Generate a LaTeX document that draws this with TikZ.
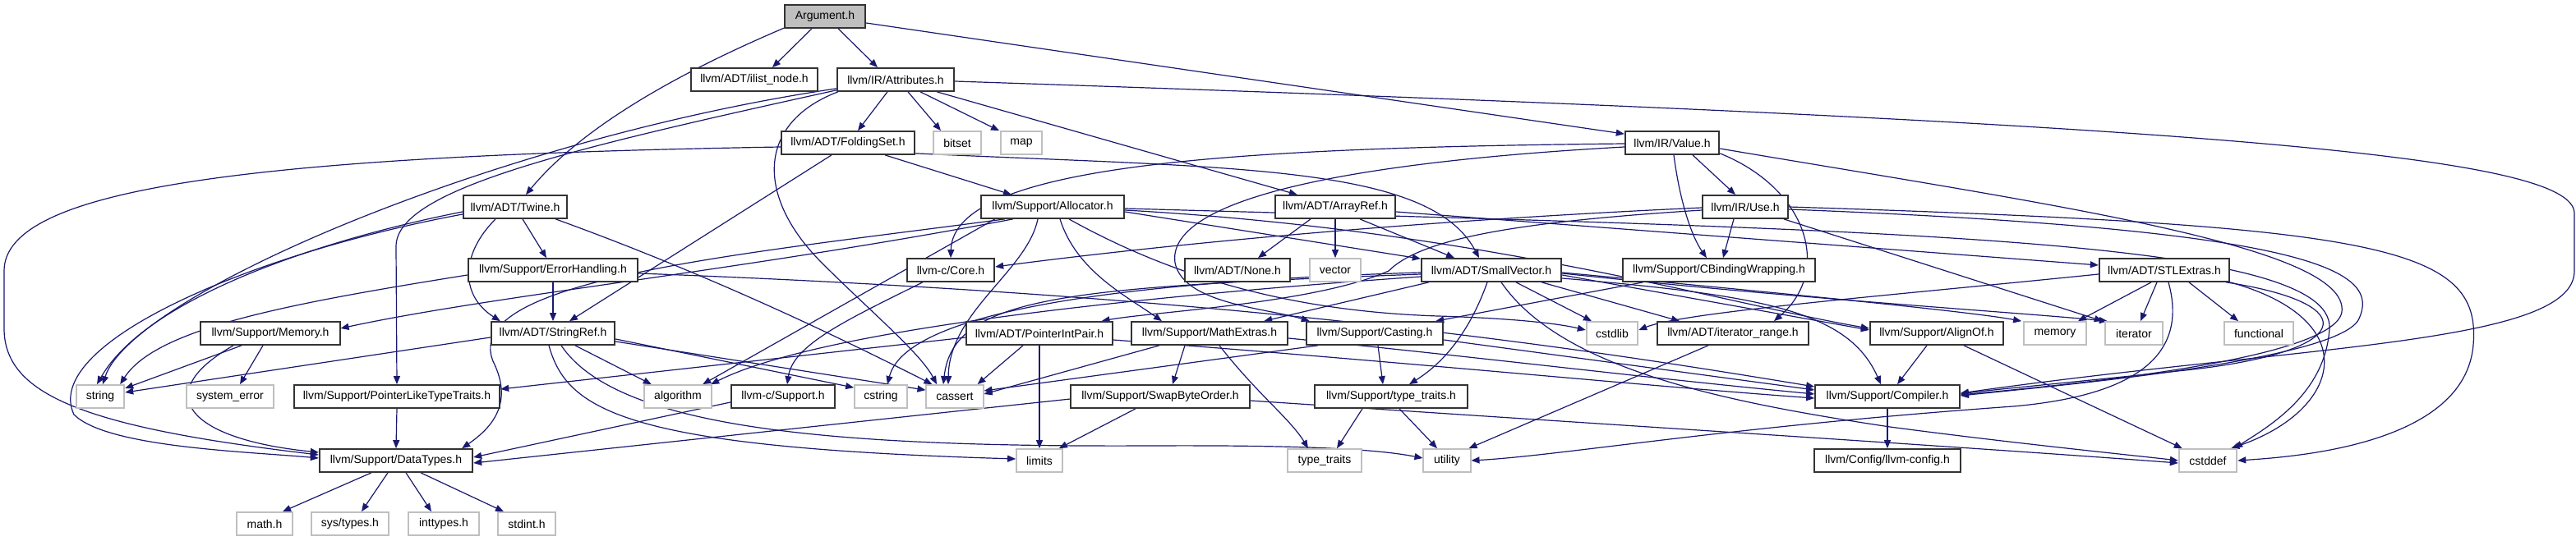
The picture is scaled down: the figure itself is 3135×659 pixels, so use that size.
\documentclass[tikz,border=0pt]{standalone}
\usepackage{fontspec}
\setmainfont{Liberation Sans}
\usetikzlibrary{calc,arrows.meta,backgrounds}

\tikzset{every picture/.style={line width=0.75pt}}
\tikzset{
  hdr/.style={draw={rgb, 255:red, 51; green, 51; blue, 51}, line width=1.3pt, fill=white,
    minimum height=21pt, inner sep=0pt, font=\fontsize{10.5}{12}\selectfont},
  sys/.style={hdr, draw={rgb, 255:red, 191; green, 191; blue, 191}},
  link/.style={draw={rgb, 255:red, 25; green, 25; blue, 112}, line width=0.9pt,
    -{Triangle[length=7.5pt,width=6pt]}, fill=none}
}

\begin{document}
\begin{tikzpicture}[x=0.75pt,y=0.75pt,yscale=-1,xscale=1]
\useasboundingbox (0,0) rectangle (3135,659);

% Row 0 and 1
\node[hdr, fill={rgb, 255:red, 191; green, 191; blue, 191}, minimum width=74pt] (arg) at (1004,20) {Argument.h};
\node[hdr, minimum width=116pt] (ilist) at (918,97) {llvm/ADT/ilist\_node.h};
\node[hdr, minimum width=107pt] (attrs) at (1090,97) {llvm/IR/Attributes.h};
% Row 2
\node[hdr, minimum width=122pt] (folding) at (1032,174) {llvm/ADT/FoldingSet.h};
\node[sys, minimum width=44pt] (bitset) at (1165,174) {bitset};
\node[sys, minimum width=38pt] (map) at (1243,174) {map};
\node[hdr, minimum width=86pt] (value) at (2035,174) {llvm/IR/Value.h};
% Row 3
\node[hdr, minimum width=95pt] (twine) at (627,252) {llvm/ADT/Twine.h};
\node[hdr, minimum width=131pt] (alloc) at (1281,252) {llvm/Support/Allocator.h};
\node[hdr, minimum width=110pt] (arrayref) at (1625,252) {llvm/ADT/ArrayRef.h};
\node[hdr, minimum width=78pt] (use) at (2124,252) {llvm/IR/Use.h};
% Row 4
\node[hdr, minimum width=155pt] (errh) at (673,329) {llvm/Support/ErrorHandling.h};
\node[hdr, minimum width=80pt] (core) at (1157,329) {llvm-c/Core.h};
\node[hdr, minimum width=96pt] (none) at (1506,329) {llvm/ADT/None.h};
\node[sys, minimum width=47pt] (vector) at (1625,329) {vector};
\node[hdr, minimum width=128pt] (smallvec) at (1815,329) {llvm/ADT/SmallVector.h};
\node[hdr, minimum width=175pt] (cbind) at (2092,329) {llvm/Support/CBindingWrapping.h};
\node[hdr, minimum width=119pt] (stlx) at (2634,329) {llvm/ADT/STLExtras.h};
% Row 5
\node[hdr, minimum width=127pt] (memoryh) at (329,406) {llvm/Support/Memory.h};
\node[hdr, minimum width=113pt] (strref) at (673,406) {llvm/ADT/StringRef.h};
\node[hdr, minimum width=133pt] (ptrint) at (1265,406) {llvm/ADT/PointerIntPair.h};
\node[hdr, minimum width=143pt] (mathx) at (1472,406) {llvm/Support/MathExtras.h};
\node[hdr, minimum width=125pt] (casting) at (1673,406) {llvm/Support/Casting.h};
\node[sys, minimum width=47pt] (cstdlib) at (1962,406) {cstdlib};
\node[hdr, minimum width=138pt] (itrange) at (2109,406) {llvm/ADT/iterator\_range.h};
\node[hdr, minimum width=122pt] (alignof) at (2357,406) {llvm/Support/AlignOf.h};
\node[sys, minimum width=57pt] (memory) at (2501,406) {memory};
\node[sys, minimum width=53pt] (iterator) at (2597,406) {iterator};
\node[sys, minimum width=63pt] (functional) at (2749,406) {functional};
% Row 6
\node[sys, minimum width=44pt] (string) at (122,483) {string};
\node[sys, minimum width=80pt] (syserr) at (280,483) {system\_error};
\node[hdr, minimum width=188pt] (ptrlike) at (483,483) {llvm/Support/PointerLikeTypeTraits.h};
\node[sys, minimum width=62pt] (algorithm) at (825,483) {algorithm};
\node[hdr, minimum width=95pt] (csupport) at (953,483) {llvm-c/Support.h};
\node[sys, minimum width=48pt] (cstring) at (1072,483) {cstring};
\node[sys, minimum width=52pt] (cassert) at (1162,483) {cassert};
\node[hdr, minimum width=163pt] (swapbo) at (1412,483) {llvm/Support/SwapByteOrder.h};
\node[hdr, minimum width=140pt] (typetr) at (1693,483) {llvm/Support/type\_traits.h};
\node[hdr, minimum width=132pt] (compiler) at (2297,483) {llvm/Support/Compiler.h};
% Row 7
\node[hdr, minimum width=140pt] (datatypes) at (482,561) {llvm/Support/DataTypes.h};
\node[sys, minimum width=42pt] (limits) at (1265,561) {limits};
\node[sys, minimum width=68pt] (typetraits) at (1612,561) {type\_traits};
\node[sys, minimum width=43pt] (utility) at (1761,561) {utility};
\node[hdr, minimum width=134pt] (config) at (2297,561) {llvm/Config/llvm-config.h};
\node[sys, minimum width=53pt] (cstddef) at (2687,561) {cstddef};
% Row 8
\node[sys, minimum width=51pt] (mathh) at (322,638) {math.h};
\node[sys, minimum width=71pt] (systypes) at (426,638) {sys/types.h};
\node[sys, minimum width=65pt] (inttypes) at (540,638) {inttypes.h};
\node[sys, minimum width=53pt] (stdint) at (641,638) {stdint.h};

\begin{pgfonlayer}{background}
\fill[white] (0,0) rectangle (3135,659);

% Argument.h
\draw[link] ($(arg.south west)+(1,-1)$) .. controls (870,70) and (720,140) .. ($(twine.north)+(13,0)$);
\draw[link] ($(arg.south)+(-16,0)$) -- ($(ilist.north)+(22,0)$);
\draw[link] ($(arg.south)+(16,0)$) -- ($(attrs.north)+(-22,0)$);
\draw[link] ($(arg.east)+(0,8)$) -- ($(value.north west)+(0,4)$);

% llvm/IR/Attributes.h
\draw[link] ($(attrs.south)+(-10,0)$) -- ($(folding.north)+(12,0)$);
\draw[link] ($(attrs.south)+(15,0)$) -- ($(bitset.north)+(-20,0)$);
\draw[link] ($(attrs.south)+(30,0)$) -- ($(map.north)+(-27,0)$);
\draw[link] ($(attrs.south east)+(-22,0)$) -- ($(arrayref.north west)+(28,0)$);
\draw[link] ($(attrs.east)+(0,2)$) .. controls (2700,150) and (3133,190) .. (3133,260) -- (3133,330) .. controls (3133,420) and (2800,420) .. ($(compiler.east)+(0,-4)$);
\draw[link] ($(attrs.south west)+(0,-2)$) .. controls (700,180) and (482,230) .. (482,300) -- (ptrlike.north);
\draw[link] ($(attrs.south west)+(0,-4)$) .. controls (600,170) and (160,360) .. ($(string.north)+(3,0)$);
\draw[link] ($(attrs.south west)+(2,0)$) .. controls (920,150) and (920,240) .. (1000,320) .. controls (1060,380) and (1120,430) .. ($(cassert.north)+(-22,0)$);

% llvm/ADT/FoldingSet.h
\draw[link] ($(folding.south)+(45,0)$) -- ($(alloc.north)+(-50,0)$);
\draw[link] ($(folding.south east)+(0,-2)$) .. controls (1500,205) and (1740,200) .. ($(smallvec.north)+(-15,0)$);
\draw[link] ($(folding.south)+(-20,0)$) -- ($(strref.north)+(20,0)$);
\draw[link] ($(folding.west)+(0,5)$) .. controls (300,190) and (5,230) .. (5,330) -- (5,400) .. controls (5,480) and (100,520) .. ($(datatypes.west)+(0,-7)$);

% llvm/IR/Value.h
\draw[link] ($(value.west)+(0,1)$) .. controls (1500,180) and (1160,200) .. (core.north);
\draw[link] ($(value.west)+(0,5)$) .. controls (1600,200) and (1420,250) .. (1430,320) .. controls (1440,370) and (1540,375) .. ($(casting.north west)+(5,0)$);
\draw[link] ($(value.south)+(25,0)$) -- ($(use.north)+(-12,0)$);
\draw[link] ($(value.south)+(2,0)$) .. controls (2045,250) and (2060,290) .. ($(cbind.north)+(-15,0)$);
\draw[link] ($(value.south east)+(0,-2)$) .. controls (2200,230) and (2230,330) .. ($(itrange.north)+(50,0)$);
\draw[link] ($(value.east)+(0,7)$) .. controls (2500,250) and (2860,300) .. (2850,380) .. controls (2840,440) and (2500,470) .. ($(compiler.east)+(0,-2)$);

% llvm/ADT/Twine.h
\draw[link] ($(twine.south)+(9,0)$) -- ($(errh.north)+(-8,0)$);
\draw[link] ($(twine.south)+(-24,0)$) .. controls (560,310) and (560,360) .. ($(strref.north west)+(12,0)$);
\draw[link] ($(twine.south east)+(-15,0)$) .. controls (850,330) and (1000,400) .. ($(cassert.north west)+(8,0)$);
\draw[link] ($(twine.west)+(0,6)$) .. controls (400,290) and (180,360) .. ($(string.north)+(-4,0)$);
\draw[link] ($(twine.west)+(0,9)$) .. controls (300,310) and (50,420) .. (90,505) .. controls (130,545) and (300,550) .. ($(datatypes.west)+(0,-3)$);

% llvm/Support/ErrorHandling.h
\draw[link] (errh.south) -- (strref.north);
\draw[link] ($(errh.west)+(0,6)$) .. controls (350,370) and (190,400) .. ($(string.north east)+(-6,0)$);
\draw[link] ($(errh.east)+(0,4)$) .. controls (1500,360) and (1900,420) .. ($(compiler.west)+(0,-12)$);

% llvm/ADT/StringRef.h
\draw[link] ($(strref.west)+(0,5)$) -- ($(string.east)+(0,-5)$);
\draw[link] ($(strref.south)+(27,0)$) -- ($(algorithm.north west)+(10,0)$);
\draw[link] ($(strref.east)+(0,7)$) -- ($(cstring.north west)+(0,4)$);
\draw[link] ($(strref.east)+(0,10)$) -- ($(cassert.north west)+(0,7)$);
\draw[link] ($(strref.south)+(-5,0)$) .. controls (690,500) and (760,545) .. ($(limits.west)+(0,-2)$);
\draw[link] ($(strref.south)+(10,0)$) .. controls (750,520) and (1000,545) .. (1400,543) .. controls (1600,542) and (1680,548) .. ($(utility.west)+(0,-3)$);

% llvm/Support/Memory.h
\draw[link] ($(memoryh.south)+(-35,0)$) -- ($(string.east)+(0,-10)$);
\draw[link] ($(memoryh.south)+(-9,0)$) -- ($(syserr.north)+(12,0)$);
\draw[link] ($(memoryh.south)+(-45,0)$) .. controls (180,480) and (230,535) .. ($(datatypes.west)+(0,-10)$);

% llvm/Support/PointerLikeTypeTraits.h
\draw[link] (ptrlike.south) -- (datatypes.north);

% llvm/Support/DataTypes.h
\draw[link] ($(datatypes.south)+(-30,0)$) -- ($(mathh.north)+(22,0)$);
\draw[link] ($(datatypes.south)+(-10,0)$) -- ($(systypes.north)+(14,0)$);
\draw[link] ($(datatypes.south)+(12,0)$) -- ($(inttypes.north)+(-15,0)$);
\draw[link] ($(datatypes.south)+(30,0)$) -- ($(stdint.north)+(-28,0)$);

% llvm/Support/Allocator.h
\draw[link] ($(alloc.east)+(0,6)$) -- ($(smallvec.north west)+(0,1)$);
\draw[link] ($(alloc.east)+(0,4)$) .. controls (1800,280) and (2100,370) .. ($(alignof.west)+(0,-6)$);
\draw[link] ($(alloc.south)+(9,0)$) .. controls (1310,330) and (1370,360) .. ($(mathx.north)+(-58,0)$);
\draw[link] ($(alloc.south west)+(40,0)$) .. controls (900,330) and (600,360) .. ($(memoryh.east)+(0,-6)$);
\draw[link] ($(alloc.south west)+(30,0)$) .. controls (900,310) and (560,340) .. (600,440) .. controls (625,490) and (600,520) .. ($(datatypes.north east)+(-14,0)$);
\draw[link] ($(alloc.south west)+(18,0)$) -- ($(algorithm.north east)+(-12,0)$);
\draw[link] ($(alloc.south)+(-18,0)$) .. controls (1250,330) and (1155,380) .. ($(cassert.north)+(-8,0)$);
\draw[link] ($(alloc.south)+(20,0)$) .. controls (1450,350) and (1600,380) .. (1750,385) .. controls (1850,388) and (1900,395) .. ($(cstdlib.west)+(0,-4)$);
\draw[link] ($(alloc.east)+(0,2)$) .. controls (2300,280) and (2840,290) .. (2835,400) .. controls (2830,480) and (2760,520) .. ($(cstddef.north east)+(-4,0)$);

% llvm/ADT/ArrayRef.h
\draw[link] ($(arrayref.south)+(-30,0)$) -- ($(none.north)+(25,0)$);
\draw[link] (arrayref.south) -- (vector.north);
\draw[link] ($(arrayref.south)+(30,0)$) -- ($(smallvec.north)+(-45,0)$);
\draw[link] ($(arrayref.east)+(0,6)$) -- ($(stlx.west)+(0,-6)$);

% llvm/IR/Use.h
\draw[link] ($(use.south)+(-14,0)$) -- ($(cbind.north)+(5,0)$);
\draw[link] ($(use.west)+(0,1)$) .. controls (1700,270) and (1400,300) .. ($(core.east)+(0,-4)$);
\draw[link] ($(use.west)+(0,4)$) .. controls (1850,270) and (1730,290) .. (1690,330) .. controls (1600,370) and (1400,380) .. ($(ptrint.north east)+(-14,0)$);
\draw[link] ($(use.south east)+(-6,0)$) -- ($(iterator.north west)+(-2,0)$);
\draw[link] (use.east) .. controls (2900,275) and (3020,300) .. (3010,420) .. controls (3000,540) and (2800,556) .. (cstddef.east);
\draw[link] ($(use.east)+(0,3)$) .. controls (2820,280) and (2900,330) .. (2870,390) .. controls (2840,440) and (2500,470) .. ($(compiler.east)+(0,-1)$);

% llvm-c/Core.h and llvm-c/Support.h
\draw[link] ($(core.south west)+(20,0)$) .. controls (1030,390) and (965,420) .. ($(csupport.north)+(5,0)$);
\draw[link] ($(csupport.west)+(0,7)$) -- ($(datatypes.east)+(0,-4)$);

% llvm/ADT/SmallVector.h
\draw[link] ($(smallvec.east)+(0,6)$) -- ($(alignof.west)+(0,-4)$);
\draw[link] ($(smallvec.east)+(0,10)$) .. controls (2150,360) and (2250,380) .. ($(compiler.north)+(-8,0)$);
\draw[link] ($(smallvec.south west)+(10,0)$) -- ($(mathx.north east)+(-30,0)$);
\draw[link] ($(smallvec.south)+(-5,0)$) .. controls (1790,400) and (1760,440) .. ($(typetr.north)+(22,0)$);
\draw[link] ($(smallvec.south)+(12,0)$) .. controls (1900,450) and (2100,490) .. (2300,520) .. controls (2450,540) and (2600,555) .. (cstddef.west);
\draw[link] ($(smallvec.south)+(30,0)$) -- ($(cstdlib.north)+(-25,0)$);
\draw[link] ($(smallvec.south east)+(-25,0)$) -- ($(itrange.north)+(-65,0)$);
\draw[link] ($(smallvec.east)+(0,3)$) .. controls (2200,360) and (2400,380) .. ($(memory.north west)+(-2,0)$);
\draw[link] ($(smallvec.east)+(0,4)$) .. controls (2200,365) and (2450,380) .. ($(iterator.north west)+(4,0)$);
\draw[link] ($(smallvec.west)+(0,8)$) .. controls (1400,360) and (1000,400) .. ($(algorithm.north east)+(-2,0)$);
\draw[link] ($(smallvec.west)+(0,5)$) .. controls (1300,350) and (1160,360) .. ($(cassert.north)+(-14,0)$);
\draw[link] ($(smallvec.west)+(0,3)$) .. controls (1300,345) and (1100,390) .. ($(cstring.north)+(8,0)$);

% llvm/Support/CBindingWrapping.h
\draw[link] ($(cbind.south west)+(25,0)$) -- ($(casting.north east)+(-10,0)$);

% llvm/ADT/STLExtras.h
\draw[link] ($(stlx.south)+(-16,0)$) -- ($(memory.north)+(28,0)$);
\draw[link] ($(stlx.south)+(-9,0)$) -- ($(iterator.north)+(8,0)$);
\draw[link] ($(stlx.south)+(30,0)$) -- ($(functional.north)+(-25,0)$);
\draw[link] ($(stlx.west)+(0,5)$) .. controls (2300,360) and (2050,380) .. ($(cstdlib.east)+(0,-4)$);
\draw[link] ($(stlx.south)+(5,0)$) .. controls (2660,420) and (2620,480) .. (2450,495) .. controls (2100,520) and (1900,555) .. (utility.east);
\draw[link] ($(stlx.south east)+(-5,0)$) .. controls (2880,370) and (2870,430) .. (2650,452) .. controls (2520,466) and (2420,475) .. ($(compiler.east)+(0,-3)$);
\draw[link] (stlx.south east) .. controls (2880,390) and (2850,500) .. ($(cstddef.north east)+(-8,0)$);

% llvm/Support/AlignOf.h
\draw[link] ($(alignof.south)+(-12,0)$) -- ($(compiler.north)+(12,0)$);
\draw[link] ($(alignof.south)+(33,0)$) -- ($(cstddef.north west)+(5,0)$);

% llvm/ADT/iterator_range.h
\draw[link] ($(itrange.south)+(-30,0)$) -- ($(utility.north east)+(-3,0)$);

% llvm/Support/Casting.h
\draw[link] ($(casting.south)+(4,0)$) -- ($(typetr.north)+(-10,0)$);
\draw[link] ($(casting.east)+(0,8)$) -- ($(compiler.west)+(0,-8)$);
\draw[link] ($(casting.south west)+(15,0)$) -- ($(cassert.east)+(0,-7)$);

% llvm/ADT/PointerIntPair.h
\draw[link] ($(ptrint.south)+(-20,0)$) -- ($(cassert.north east)+(-8,0)$);
\draw[link] (ptrint.south) -- (limits.north);
\draw[link] ($(ptrint.west)+(0,5)$) -- ($(ptrlike.east)+(0,-9)$);
\draw[link] ($(ptrint.east)+(0,8)$) .. controls (1700,440) and (2000,470) .. ($(compiler.west)+(0,2)$);

% llvm/Support/MathExtras.h
\draw[link] ($(mathx.south)+(-30,0)$) -- ($(swapbo.north)+(15,0)$);
\draw[link] ($(mathx.south)+(12,0)$) .. controls (1530,480) and (1570,510) .. ($(typetraits.north)+(-20,0)$);
\draw[link] ($(mathx.south west)+(35,0)$) -- ($(cassert.east)+(0,-3)$);
\draw[link] ($(mathx.east)+(0,6)$) .. controls (1800,435) and (2000,460) .. ($(compiler.west)+(0,-3)$);

% llvm/Support/SwapByteOrder.h
\draw[link] ($(swapbo.south)+(-30,0)$) -- ($(limits.north east)+(-5,0)$);
\draw[link] ($(swapbo.west)+(0,3)$) -- ($(datatypes.east)+(0,3)$);
\draw[link] ($(swapbo.east)+(0,5)$) .. controls (2000,520) and (2400,545) .. ($(cstddef.west)+(0,3)$);

% llvm/Support/type_traits.h
\draw[link] ($(typetr.south)+(-35,0)$) -- ($(typetraits.north)+(15,0)$);
\draw[link] ($(typetr.south)+(10,0)$) -- ($(utility.north)+(-12,0)$);

% llvm/Support/Compiler.h
\draw[link] (compiler.south) -- (config.north);
\end{pgfonlayer}

\end{tikzpicture}
\end{document}
